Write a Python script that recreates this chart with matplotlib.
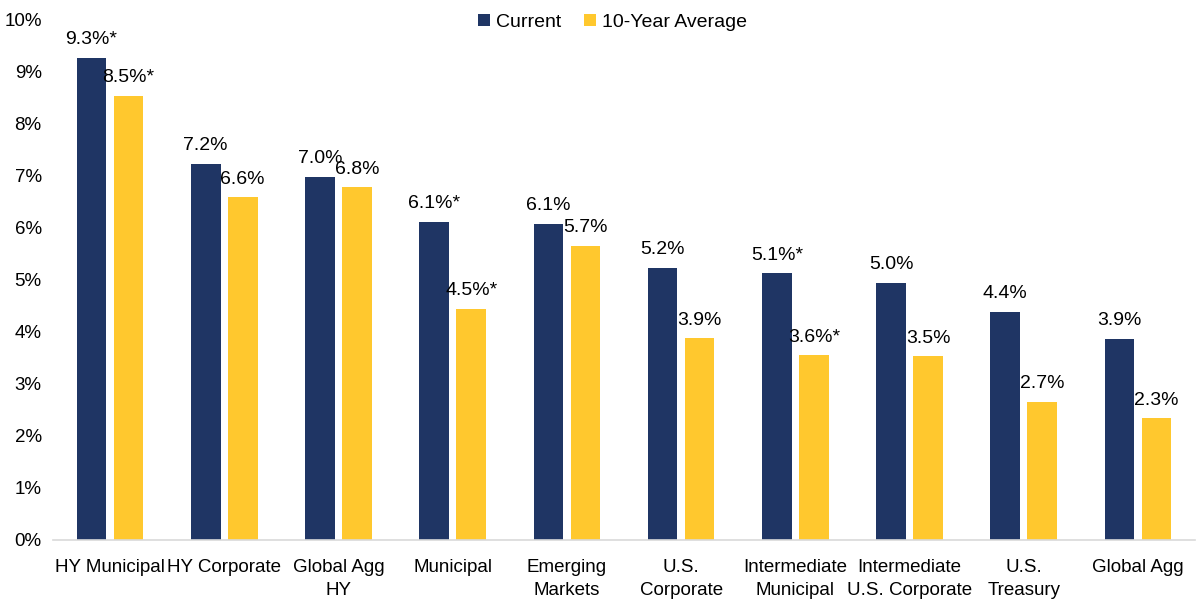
import matplotlib
matplotlib.use("Agg")
import matplotlib.pyplot as plt
import numpy as np

plt.rcParams['font.family'] = ['Liberation Sans', 'DejaVu Sans']

# ----------------------------
# Data
# ----------------------------
categories = ["HY Municipal", "HY Corporate", "Global Agg\nHY", "Municipal",
              "Emerging\nMarkets", "U.S.\nCorporate", "Intermediate\nMunicipal",
              "Intermediate\nU.S. Corporate", "U.S.\nTreasury", "Global Agg"]
current = [9.27, 7.23, 6.99, 6.12, 6.08, 5.23, 5.13, 4.95, 4.39, 3.87]
ten_year_avg = [8.54, 6.59, 6.78, 4.45, 5.66, 3.88, 3.55, 3.53, 2.66, 2.34]
current_labels = ["9.3%*", "7.2%", "7.0%", "6.1%*", "6.1%", "5.2%", "5.1%*", "5.0%", "4.4%", "3.9%"]
avg_labels = ["8.5%*", "6.6%", "6.8%", "4.5%*", "5.7%", "3.9%", "3.6%*", "3.5%", "2.7%", "2.3%"]

NAVY = "#1F3564"
GOLD = "#FFC82E"

fig = plt.figure(figsize=(12, 6), dpi=100)
ax = fig.add_axes([0.044, 0.1, 0.952, 0.8667])

x = np.arange(len(categories))
w = 0.26
off = 0.162
b1 = ax.bar(x - off, current, w, color=NAVY, label="Current")
b2 = ax.bar(x + off, ten_year_avg, w, color=GOLD, label="10-Year Average")

for rect, lab in zip(b1, current_labels):
    ax.annotate(lab, (rect.get_x() + rect.get_width() / 2, rect.get_height()),
                xytext=(0, 7), textcoords="offset points", ha="center", va="bottom", fontsize=14)
for rect, lab in zip(b2, avg_labels):
    ax.annotate(lab, (rect.get_x() + rect.get_width() / 2, rect.get_height()),
                xytext=(0, 7), textcoords="offset points", ha="center", va="bottom", fontsize=14)

ax.set_xlim(-0.5, len(categories) - 0.5)
ax.set_ylim(0, 10)
ax.set_yticks(range(0, 11))
ax.set_yticklabels([f"{v}%" for v in range(0, 11)], fontsize=13.5)
ax.set_xticks(x)
ax.set_xticklabels(categories, fontsize=13.5, linespacing=1.45, va="top")

for s in ["top", "right", "left"]:
    ax.spines[s].set_visible(False)
ax.spines["bottom"].set_color("#D9D9D9")
ax.spines["bottom"].set_linewidth(1.2)
ax.tick_params(axis="both", length=0)
ax.tick_params(axis="x", pad=14)
ax.tick_params(axis="y", pad=8)

ax.legend(loc="upper center", bbox_to_anchor=(0.49, 1.045), ncol=2, frameon=False,
          fontsize=14, handlelength=0.6, handleheight=0.6, handletextpad=0.3,
          columnspacing=1.2)

fig.savefig("out.png", dpi=100)
